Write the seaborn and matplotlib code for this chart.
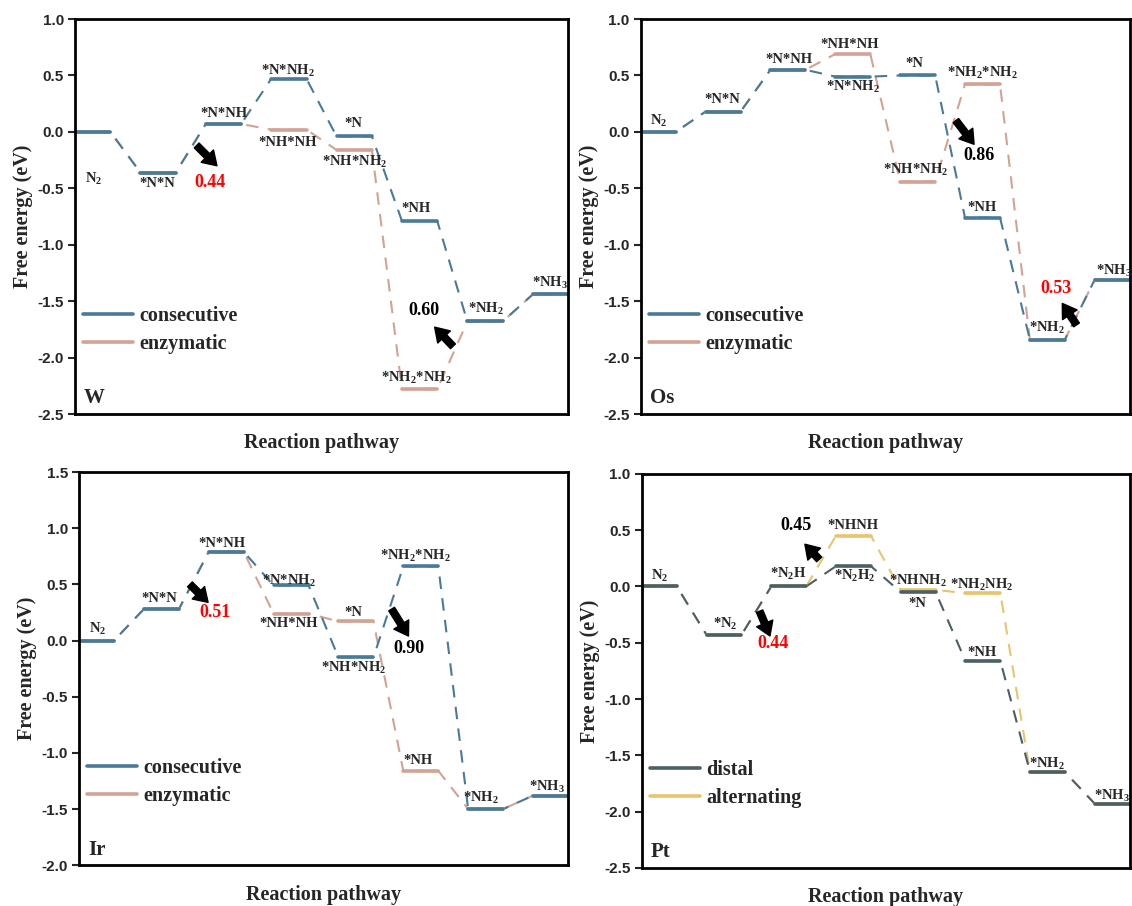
import numpy as np
import pandas as pd
import seaborn as sns
import matplotlib.pyplot as plt
from matplotlib.lines import Line2D

# Free energies (eV) along the 8 reaction steps
w_consecutive = [0.00, -0.36, 0.07, 0.47, -0.04, -0.79, -1.68, -1.44]
w_enzymatic = [0.00, -0.36, 0.07, 0.02, -0.16, -2.28, -1.68, -1.44]

os_consecutive = [0.00, 0.18, 0.55, 0.49, 0.50, -0.76, -1.84, -1.31]
os_enzymatic = [0.00, 0.18, 0.55, 0.69, -0.44, 0.42, -1.84, -1.31]

ir_consecutive = [0.00, 0.28, 0.79, 0.49, -0.15, 0.66, -1.50, -1.38]
ir_enzymatic = [0.00, 0.28, 0.79, 0.24, 0.17, -1.16, -1.50, -1.38]

pt_distal = [0.00, -0.43, 0.00, 0.18, -0.05, -0.66, -1.65, -1.93]
pt_alternating = [0.00, -0.43, 0.00, 0.45, -0.03, -0.06, -1.65, -1.93]

# intermediate labels: (text, x, y)
w_labels = [("N$_2$", 0.29, -0.42), ("*N*N", 1.25, -0.46), ("*N*NH", 2.28, 0.16),
            ("*N*NH$_2$", 3.25, 0.54), ("*NH*NH", 3.25, -0.09), ("*N", 4.25, 0.07),
            ("*NH*NH$_2$", 4.28, -0.27), ("*NH", 5.22, -0.68), ("*NH$_2$*NH$_2$", 5.22, -2.18),
            ("*NH$_2$", 6.28, -1.57), ("*NH$_3$", 7.27, -1.34)]
os_labels = [("N$_2$", 0.28, 0.10), ("*N*N", 1.25, 0.29), ("*N*NH", 2.28, 0.64),
             ("*NH*NH", 3.22, 0.77), ("*N*NH$_2$", 3.27, 0.40), ("*N", 4.22, 0.61),
             ("*NH$_2$*NH$_2$", 5.27, 0.52), ("*NH*NH$_2$", 4.24, -0.34), ("*NH", 5.27, -0.67),
             ("*NH$_2$", 6.27, -1.74), ("*NH$_3$", 7.30, -1.23)]
ir_labels = [("N$_2$", 0.29, 0.10), ("*N*N", 1.24, 0.37), ("*N*NH", 2.21, 0.86),
             ("*N*NH$_2$", 3.23, 0.53), ("*NH*NH", 3.23, 0.15), ("*N", 4.23, 0.25),
             ("*NH*NH$_2$", 4.23, -0.24), ("*NH$_2$*NH$_2$", 5.18, 0.75), ("*NH", 5.23, -1.07),
             ("*NH$_2$", 6.20, -1.40), ("*NH$_3$", 7.22, -1.30)]
pt_labels = [("N$_2$", 0.28, 0.09), ("*N$_2$", 1.29, -0.33), ("*N$_2$H", 2.27, 0.11),
             ("*NHNH", 3.27, 0.54), ("*N$_2$H$_2$", 3.29, 0.09), ("*NHNH$_2$", 4.27, 0.05),
             ("*N", 4.25, -0.15), ("*NH$_2$NH$_2$", 5.26, 0.01), ("*NH", 5.26, -0.59),
             ("*NH$_2$", 6.26, -1.58), ("*NH$_3$", 7.26, -1.86)]

# barrier notes: (text, colour, text x, text y, arrow start, arrow end)
w_notes = [("0.44", "red", 2.06, -0.45, (1.86, -0.12), (2.17, -0.30)),
           ("0.60", "black", 5.33, -1.58, (5.78, -1.90), (5.50, -1.73))]
os_notes = [("0.86", "black", 5.22, -0.21, (4.86, 0.10), (5.14, -0.11)),
            ("0.53", "red", 6.40, -1.39, (6.72, -1.71), (6.50, -1.52))]
ir_notes = [("0.51", "red", 2.09, 0.25, (1.71, 0.50), (1.99, 0.34)),
            ("0.90", "black", 5.08, -0.075, (4.82, 0.28), (5.08, 0.04))]
pt_notes = [("0.45", "black", 2.38, 0.54, (2.74, 0.24), (2.52, 0.375)),
            ("0.44", "red", 2.03, -0.51, (1.82, -0.22), (1.98, -0.44))]

SEG = 0.54
BLUE = "#497a98"
BROWN = "#d2a393"
SLATE = "#4b5f66"
GOLD = "#e6c56e"

sns.set_style("ticks")
plt.rcParams["font.family"] = ["Liberation Serif", "DejaVu Serif"]
plt.rcParams["font.weight"] = "bold"
plt.rcParams["mathtext.fontset"] = "custom"
plt.rcParams["mathtext.rm"] = "Liberation Serif:bold"
plt.rcParams["mathtext.it"] = "Liberation Serif:bold:italic"
plt.rcParams["mathtext.bf"] = "Liberation Serif:bold"
plt.rcParams["axes.unicode_minus"] = False


def profile(energies):
    xs, ys, seg = [], [], []
    for i, e in enumerate(energies):
        xs += [i, i + SEG]
        ys += [e, e]
        seg += [i, i]
    return pd.DataFrame({"x": xs, "y": ys, "seg": seg})


def draw_panel(ax, series, names, colors, labels, notes, tag, ylim):
    # dashed connectors under, solid levels on top
    for e, c in zip(series, colors):
        df = profile(e)
        sns.lineplot(data=df, x="x", y="y", sort=False, estimator=None, color=c,
                     lw=1.5, dashes=False, linestyle=(0, (6, 4.5)), ax=ax)
    for e, c in zip(series, colors):
        df = profile(e)
        sns.lineplot(data=df, x="x", y="y", units="seg", estimator=None, color=c,
                     lw=2.6, ax=ax)

    for text, x, y in labels:
        ax.text(x, y, text, ha="center", va="center", fontsize=10.5, fontweight="bold")
    for text, col, x, y, p0, p1 in notes:
        ax.text(x, y, text, ha="center", va="center", fontsize=13, color=col, fontweight="bold")
        ax.annotate("", xy=p1, xytext=p0,
                    arrowprops=dict(arrowstyle="simple,head_width=0.9,head_length=0.7,tail_width=0.35",
                                    color="black", shrinkA=0, shrinkB=0, mutation_scale=14))

    handles = [Line2D([], [], color=c, lw=2.6) for c in colors[::-1]]
    ax.legend(handles, names[::-1], loc="center left", bbox_to_anchor=(0.0, 0.212),
              frameon=False, handlelength=2.5, handletextpad=0.3,
              labelspacing=0.4, borderaxespad=0.0, prop={"weight": "bold", "size": 14.5})
    ax.text(0.018, 0.04, tag, transform=ax.transAxes, fontsize=15, fontweight="bold",
            ha="left", va="center")

    ax.set_xlim(0, 7 + SEG)
    ax.set_ylim(*ylim)
    ticks = np.arange(ylim[0], ylim[1] + 0.01, 0.5)
    ax.set_yticks(ticks)
    ax.set_yticklabels([f"{v:.1f}" for v in ticks],
                       family="Liberation Sans", fontweight="bold", fontsize=11)
    ax.set_xticks([])
    ax.tick_params(axis="y", direction="out", length=5, width=1.5, pad=3)
    for s in ax.spines.values():
        s.set_linewidth(2.0)
        s.set_visible(True)
        s.set_color("black")
    ax.set_xlabel("Reaction pathway", fontsize=14.5, fontweight="bold", labelpad=14)
    ax.set_ylabel("Free energy (eV)", fontsize=14.5, fontweight="bold", labelpad=3)


fig = plt.figure(figsize=(11.32, 9.06), dpi=100)
ax_w = fig.add_axes([0.0663, 0.543, 0.4355, 0.436])
ax_os = fig.add_axes([0.566, 0.543, 0.432, 0.436])
ax_ir = fig.add_axes([0.0698, 0.045, 0.432, 0.434])
ax_pt = fig.add_axes([0.567, 0.042, 0.431, 0.435])

draw_panel(ax_w, [w_enzymatic, w_consecutive], ["enzymatic", "consecutive"],
           [BROWN, BLUE], w_labels, w_notes, "W", (-2.5, 1.0))
draw_panel(ax_os, [os_enzymatic, os_consecutive], ["enzymatic", "consecutive"],
           [BROWN, BLUE], os_labels, os_notes, "Os", (-2.5, 1.0))
draw_panel(ax_ir, [ir_enzymatic, ir_consecutive], ["enzymatic", "consecutive"],
           [BROWN, BLUE], ir_labels, ir_notes, "Ir", (-2.0, 1.5))
draw_panel(ax_pt, [pt_alternating, pt_distal], ["alternating", "distal"],
           [GOLD, SLATE], pt_labels, pt_notes, "Pt", (-2.5, 1.0))

fig.savefig("out.png", dpi=100)
